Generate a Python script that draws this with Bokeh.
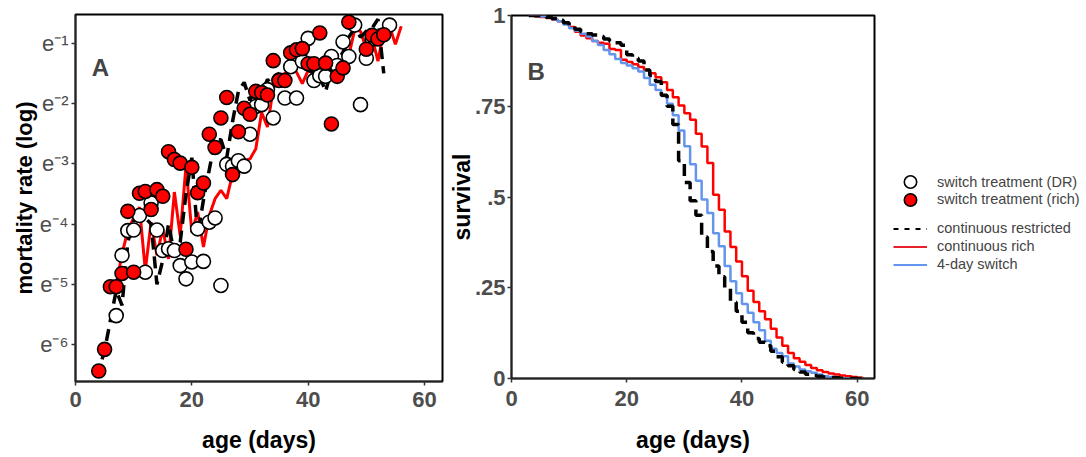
import numpy as np
from bokeh.plotting import figure
from bokeh.models import Range1d, FixedTicker, Legend, LegendItem, Label
from bokeh.layouts import row
from bokeh.embed import file_html
from bokeh.resources import INLINE

# ---------------- Panel A: mortality rate (natural log) ----------------
switch_dr_days = [7, 8, 9, 10, 11, 12, 13, 14, 15, 16, 17, 18, 19, 20, 21, 22, 23, 24, 25, 26,
                  27, 28, 29, 30, 31, 32, 33, 34, 35, 36, 37, 38, 39, 40, 41, 42, 43, 44, 45, 46,
                  47, 48, 49, 50, 51, 54]
switch_dr_lnrate = [-5.52, -4.52, -4.11, -4.10, -3.86, -4.80, -3.65, -4.10, -4.44, -4.41,
                    -4.44, -4.69, -4.91, -4.63, -4.08, -4.62, -3.97, -3.90, -5.02, -3.01,
                    -3.04, -2.95, -3.04, -2.51, -2.05, -2.02, -1.77, -2.24, -1.61, -1.91,
                    -1.39, -1.91, -1.30, -0.92, -1.62, -1.54, -1.55, -1.22, -1.37, -0.98,
                    -1.22, -0.70, -2.02, -1.25, -0.93, -0.70]

switch_rich_days = [4, 5, 6, 7, 8, 9, 10, 11, 12, 13, 14, 15, 16, 17, 18, 19, 20, 21, 22, 23,
                    24, 25, 26, 27, 28, 29, 30, 31, 32, 33, 34, 35, 36, 37, 38, 39, 40, 41, 42, 43,
                    44, 45, 46, 47, 50, 51, 52, 53]
switch_rich_lnrate = [-6.44, -6.08, -5.04, -5.04, -4.82, -3.79, -4.80, -3.49, -3.46, -3.76,
                      -3.43, -3.54, -2.80, -2.93, -2.99, -4.42, -3.06, -3.48, -3.32, -2.51,
                      -2.73, -2.24, -1.90, -3.18, -2.47, -2.08, -2.18, -1.80, -1.82, -1.86,
                      -1.29, -1.62, -1.62, -1.16, -1.11, -1.09, -1.34, -1.34, -0.83, -1.33,
                      -2.34, -1.55, -1.41, -0.65, -1.10, -0.87, -0.93, -0.86]

cont_rich_days = list(range(5, 57))
cont_rich_lnrate = [-4.97, -5.00, -5.00, -4.50, -4.10,
                    -3.90, -3.72, -4.77, -3.97, -4.52,
                    -4.08, -4.58, -3.47, -4.19, -3.03,
                    -4.14, -3.80, -4.38, -3.86, -3.58,
                    -3.44, -3.58, -3.17, -3.03, -2.95,
                    -2.92, -2.75, -2.15, -2.39, -1.75,
                    -1.55, -1.50, -1.45, -1.48, -1.67,
                    -1.45, -1.50, -1.45, -1.45, -1.40,
                    -1.35, -1.30, -1.20, -0.78, -0.80,
                    -1.10, -0.90, -1.30, -0.80, -0.72,
                    -1.02, -0.72]

cont_dr_days = list(range(3, 54))
cont_dr_lnrate = [-6.50, -6.44, -6.10, -5.60, -5.10,
                  -5.35, -4.30, -3.95, -3.85, -3.90,
                  -4.00, -5.00, -4.60, -4.00, -4.50,
                  -4.30, -3.50, -2.90, -4.20, -3.60,
                  -3.10, -2.60, -2.60, -2.90, -2.30,
                  -1.80, -1.65, -1.95, -1.70, -1.85,
                  -1.60, -1.70, -1.50, -1.45, -1.40,
                  -1.35, -1.40, -1.45, -1.50, -1.55,
                  -1.80, -1.45, -1.30, -1.15, -0.90,
                  -0.75, -0.90, -0.80, -0.75, -0.60,
                  -1.50]

a_yticks = [-6, -5, -4, -3, -2, -1]
a_ytick_labels = ["e\u207b\u2076", "e\u207b\u2075", "e\u207b\u2074",
                  "e\u207b\u00b3", "e\u207b\u00b2", "e\u207b\u00b9"]
x_ticks = [0, 20, 40, 60]

# ---------------- Panel B: survival ----------------
surv_days = list(range(3, 62))
surv_rich = [1.000, 0.998, 0.996, 0.993, 0.989, 0.984, 0.977, 0.968, 0.955, 0.945,
             0.937, 0.930, 0.925, 0.922, 0.908, 0.905, 0.878, 0.872, 0.866, 0.858,
             0.850, 0.841, 0.830, 0.816, 0.795, 0.775, 0.752, 0.731, 0.713, 0.674,
             0.639, 0.594, 0.506, 0.465, 0.405, 0.362, 0.322, 0.282, 0.242, 0.211,
             0.185, 0.163, 0.137, 0.113, 0.090, 0.070, 0.056, 0.046, 0.037, 0.029,
             0.023, 0.018, 0.014, 0.011, 0.008, 0.006, 0.004, 0.002, 0.000]
surv_switch = [1.000, 0.999, 0.997, 0.994, 0.990, 0.984, 0.975, 0.965, 0.958, 0.950,
               0.942, 0.930, 0.919, 0.905, 0.893, 0.880, 0.869, 0.862, 0.855, 0.846,
               0.828, 0.809, 0.795, 0.778, 0.757, 0.725, 0.683, 0.640, 0.590, 0.545,
               0.493, 0.456, 0.400, 0.364, 0.310, 0.268, 0.235, 0.205, 0.181, 0.155,
               0.133, 0.104, 0.082, 0.070, 0.061, 0.041, 0.033, 0.025, 0.020, 0.016,
               0.011, 0.006, 0.004, 0.002, 0.000, 0.000, 0.000, 0.000, 0.000]
surv_restricted = [1.000, 0.999, 0.997, 0.995, 0.992, 0.987, 0.980, 0.972, 0.962, 0.955,
                   0.950, 0.946, 0.942, 0.935, 0.930, 0.925, 0.918, 0.892, 0.882, 0.875,
                   0.850, 0.835, 0.818, 0.780, 0.750, 0.700, 0.600, 0.540, 0.490, 0.450,
                   0.390, 0.350, 0.310, 0.280, 0.250, 0.210, 0.185, 0.155, 0.126, 0.110,
                   0.100, 0.090, 0.075, 0.060, 0.045, 0.035, 0.025, 0.018, 0.012, 0.008,
                   0.006, 0.004, 0.003, 0.002, 0.001, 0.001, 0.000, 0.000, 0.000]
b_yticks = [0, 0.25, 0.5, 0.75, 1]
b_ytick_labels = ["0", ".25", ".5", ".75", "1"]

legend_labels = ["switch treatment (DR)", "switch treatment (rich)",
                 "continuous restricted", "continuous rich", "4-day switch"]

FONT = "Liberation Sans"
GRAY = "#4d4d4d"
RED = "#ff0000"
BLUE = "#6495ed"
H = 456


def style(p):
    p.outline_line_color = "black"
    p.outline_line_width = 2
    p.xgrid.visible = False
    p.ygrid.visible = False
    p.background_fill_color = "white"
    p.border_fill_color = "white"
    for ax in p.axis:
        ax.axis_line_color = "#222222"
        ax.axis_line_width = 1.5
        ax.major_tick_line_color = "#333333"
        ax.major_tick_line_width = 1.5
        ax.major_tick_out = 4
        ax.major_tick_in = 0
        ax.minor_tick_line_color = None
        ax.major_label_text_font = FONT
        ax.major_label_text_color = GRAY
        ax.major_label_text_font_size = "22px"
        ax.major_label_text_font_style = "bold"
        ax.major_label_standoff = 2
        ax.axis_label_text_font = FONT
        ax.axis_label_text_font_size = "23px"
        ax.axis_label_text_font_style = "bold"
        ax.axis_label_text_color = "black"


# ---------------- figure A ----------------
pA = figure(width=444, height=H, output_backend="svg", toolbar_location=None,
            x_range=Range1d(0, 63.1), y_range=Range1d(-6.613, -0.524),
            min_border_left=75, min_border_right=2, min_border_top=14,
            min_border_bottom=H - 14 - 367, frame_align=False)
style(pA)
pA.xaxis.ticker = FixedTicker(ticks=x_ticks)
pA.yaxis.ticker = FixedTicker(ticks=a_yticks)
pA.yaxis.major_label_overrides = dict(zip(a_yticks, a_ytick_labels))
pA.yaxis.major_label_text_font_style = "normal"
pA.yaxis.major_label_text_font_size = "22px"
pA.yaxis.major_label_standoff = 3
pA.yaxis.axis_label_text_font_size = "22px"
pA.xaxis.major_label_standoff = 6
pA.xaxis.axis_label = "age (days)"
pA.yaxis.axis_label = "mortality rate (log)"
pA.xaxis.axis_label_standoff = 17
pA.yaxis.axis_label_standoff = 0

pA.line(cont_rich_days, cont_rich_lnrate, line_color=RED, line_width=3)
pA.line(cont_dr_days, cont_dr_lnrate, line_color="black", line_width=3.5,
        line_dash="12 7", line_cap="butt")
pA.scatter(switch_dr_days, switch_dr_lnrate, size=14, fill_color="white",
           line_color="black", line_width=1.6)
pA.scatter(switch_rich_days, switch_rich_lnrate, size=14, fill_color=RED,
           line_color="black", line_width=1.6)
pA.add_layout(Label(x=4.3, y=-1.40, text="A", text_font=FONT, text_font_size="24px",
                    text_font_style="bold", text_align="center", text_baseline="middle"))

# ---------------- figure B ----------------
pB = figure(width=438, height=H, output_backend="svg", toolbar_location=None,
            x_range=Range1d(0, 63), y_range=Range1d(0, 1),
            min_border_left=67, min_border_right=8, min_border_top=15,
            min_border_bottom=H - 15 - 363, frame_align=False)
style(pB)
pB.xaxis.ticker = FixedTicker(ticks=x_ticks)
pB.yaxis.ticker = FixedTicker(ticks=b_yticks)
pB.yaxis.major_label_overrides = dict(zip(b_yticks, b_ytick_labels))
pB.xaxis.major_label_standoff = 8
pB.xaxis.axis_label = "age (days)"
pB.yaxis.axis_label = "survival"
pB.xaxis.axis_label_standoff = 18
pB.yaxis.axis_label_standoff = -3

pB.step(surv_days, surv_rich, mode="after", line_color=RED, line_width=2.5)
pB.step(surv_days, surv_switch, mode="after", line_color=BLUE, line_width=2.5)
pB.step(surv_days, surv_restricted, mode="after", line_color="black", line_width=3.5,
        line_dash="12 7", line_cap="butt")
pB.add_layout(Label(x=4.3, y=0.845, text="B", text_font=FONT, text_font_size="24px",
                    text_font_style="bold", text_align="center", text_baseline="middle"))

# ---------------- legend panel ----------------
pL = figure(width=204, height=H, output_backend="svg", toolbar_location=None,
            x_range=Range1d(0, 1), y_range=Range1d(0, 1),
            min_border_left=0, min_border_right=0, min_border_top=0, min_border_bottom=0,
            frame_align=False)
pL.axis.visible = False
pL.xgrid.visible = False
pL.ygrid.visible = False
pL.outline_line_color = None

far = [-10]
m1 = pL.scatter(far, far, size=12, fill_color="white", line_color="black", line_width=1.6)
m2 = pL.scatter(far, far, size=12, fill_color=RED, line_color="black", line_width=1.6)
l1 = pL.line([-10, -9], [-10, -9], line_color="black", line_width=2, line_dash="5 6")
l2 = pL.line([-10, -9], [-10, -9], line_color="#e8202a", line_width=2)
l3 = pL.line([-10, -9], [-10, -9], line_color=BLUE, line_width=2)

common = dict(padding=0, margin=0, border_line_color=None, background_fill_alpha=0,
              label_text_font=FONT, label_text_font_size="14.5px", label_standoff=10,
              glyph_width=34, label_height=17)
legM1 = Legend(items=[LegendItem(label=legend_labels[0], renderers=[m1])],
               location=(11, H - 197.2), glyph_height=31, **common)
legM2 = Legend(items=[LegendItem(label=legend_labels[1], renderers=[m2])],
               location=(11, H - 214.8), glyph_height=31, **common)
legL = Legend(items=[LegendItem(label=legend_labels[2], renderers=[l1]),
                     LegendItem(label=legend_labels[3], renderers=[l2]),
                     LegendItem(label=legend_labels[4], renderers=[l3])],
              location=(11, H - 272.8), glyph_height=17, spacing=1, **common)
pL.add_layout(legM1)
pL.add_layout(legM2)
pL.add_layout(legL)

layout = row(pA, pB, pL)
open("out.html", "w").write(file_html(layout, INLINE))
